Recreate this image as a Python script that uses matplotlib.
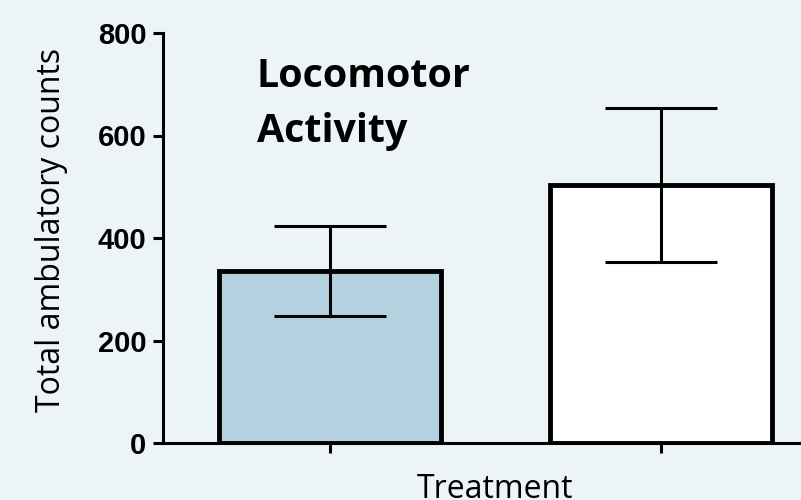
import matplotlib.pyplot as plt

# data
groups = ["Control", "Treated"]
means = [335, 503]
errors = [88, 150]
bar_colors = ["#b5d1df", "#ffffff"]

bg = "#ecf4f7"
W, H = 801, 500

fig = plt.figure(figsize=(8.01, 5.0), dpi=100, facecolor=bg)
ax = fig.add_axes([163 / W, 57 / H, 1 - 163 / W, 410 / H])
ax.set_facecolor(bg)

x = list(range(len(groups)))
ax.bar(x, means, width=0.67, color=bar_colors, edgecolor="black", linewidth=3.5, zorder=2)
ax.errorbar(x, means, yerr=errors, fmt="none", ecolor="black", elinewidth=2.2,
            capsize=40, capthick=2.2, zorder=3)

ax.set_xlim(-0.504, 1.423)
ax.set_ylim(0, 800)
ax.set_yticks([0, 200, 400, 600, 800])
ax.set_xticks(x)
ax.set_xticklabels([])

for side in ["top", "right"]:
    ax.spines[side].set_visible(False)
for side in ["left", "bottom"]:
    ax.spines[side].set_linewidth(2.2)

ax.tick_params(axis="both", direction="out", length=7, width=2.2, color="black", pad=5)
for lbl in ax.get_yticklabels():
    lbl.set_fontfamily("Liberation Sans")
    lbl.set_fontweight("bold")
    lbl.set_fontsize(21)

# axis titles placed in figure pixels to match the reference crop
fig.text(51.5 / W, 1 - 230 / H, "Total ambulatory counts", family="Open Sans",
         fontsize=23, rotation=90, ha="center", va="center")
fig.text(495.5 / W, 1 - 498 / H, "Treatment", family="Open Sans",
         fontsize=23, ha="center", va="baseline")

fig.text(257 / W, 1 - 87 / H, "Locomotor", family="Open Sans", fontweight="bold",
         fontsize=28.4, ha="left", va="baseline")
fig.text(257 / W, 1 - 142 / H, "Activity", family="Open Sans", fontweight="bold",
         fontsize=28.4, ha="left", va="baseline")

plt.savefig("out.png", dpi=100, facecolor=bg)
